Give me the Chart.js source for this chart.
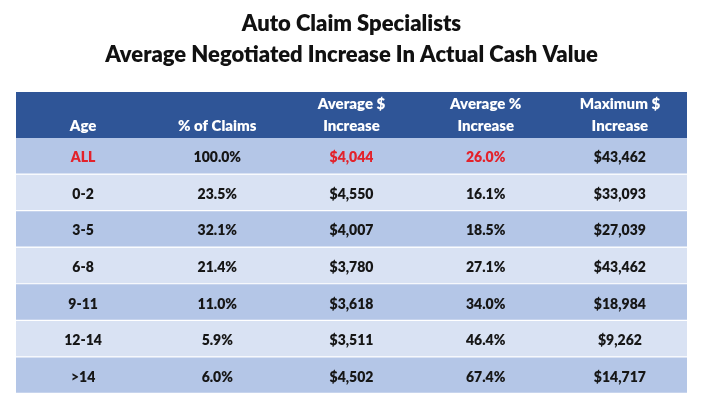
<!DOCTYPE html>
<html>
<head>
<meta charset="utf-8">
<script src="https://cdn.jsdelivr.net/npm/chart.js@4"></script>
<style>
  html, body { margin: 0; padding: 0; background: #fff; }
  #wrap { width: 710px; height: 417px; position: relative; }
</style>
</head>
<body>
<div id="wrap"><canvas id="c"></canvas></div>
<script>
// ---- data ----
const titleLines = ['Auto Claim Specialists', 'Average Negotiated Increase In Actual Cash Value'];
const columnHeaders = [['Age'], ['% of Claims'], ['Average $', 'Increase'], ['Average %', 'Increase'], ['Maximum $', 'Increase']];
const ages = ['ALL', '0-2', '3-5', '6-8', '9-11', '12-14', '>14'];
const pctOfClaims = [100.0, 23.5, 32.1, 21.4, 11.0, 5.9, 6.0];
const avgDollarIncrease = [4044, 4550, 4007, 3780, 3618, 3511, 4502];
const avgPctIncrease = [26.0, 16.1, 18.5, 27.1, 34.0, 46.4, 67.4];
const maxDollarIncrease = [43462, 33093, 27039, 43462, 18984, 9262, 14717];

// ---- style ----
const FONT = 'Lato, "Open Sans", "DejaVu Sans", sans-serif';
const HEADER_BG = '#2F5597';
const ROW_DARK = '#B4C6E7';
const ROW_LIGHT = '#D9E2F3';
const RED = '#E3222B';
const TEXT = '#161616';
const HEADER_UNITS = 1.26; // header row height relative to a data row

const fmtPct = v => v.toFixed(1) + '%';
const fmtUsd = v => '$' + v.toLocaleString('en-US');

const rowsText = ages.map((a, i) => [
  a,
  fmtPct(pctOfClaims[i]),
  fmtUsd(avgDollarIncrease[i]),
  fmtPct(avgPctIncrease[i]),
  fmtUsd(maxDollarIncrease[i])
]);
const redCols = [0, 2, 3]; // highlighted cells in the "ALL" row

// fit title size to reference width
const mc = document.createElement('canvas').getContext('2d');
mc.font = '800 21px ' + FONT;
const w21 = mc.measureText(titleLines[1]).width;
const titleSize = Math.max(16, Math.min(24, 21 * 493 / w21));

const tablePlugin = {
  id: 'tablePlugin',
  beforeDatasetsDraw(chart) {
    const { ctx, scales: { x, y } } = chart;
    const top = y.getPixelForValue(-HEADER_UNITS);
    const bot = y.getPixelForValue(0);
    ctx.save();
    ctx.fillStyle = HEADER_BG;
    ctx.fillRect(x.getPixelForValue(0), top, x.getPixelForValue(5) - x.getPixelForValue(0), bot - top);
    ctx.restore();
  },
  afterDatasetsDraw(chart) {
    const { ctx, scales: { x, y } } = chart;
    ctx.save();
    ctx.textAlign = 'center';
    ctx.textBaseline = 'middle';
    // header
    const hBot = y.getPixelForValue(0);
    ctx.fillStyle = '#ffffff';
    ctx.font = '800 15px ' + FONT;
    columnHeaders.forEach((lines, c) => {
      const cx = x.getPixelForValue(c + 0.5);
      const n = lines.length;
      lines.forEach((t, k) => {
        ctx.fillText(t, cx, hBot - 11.5 - (n - 1 - k) * 22);
      });
    });
    // body
    ctx.font = '800 14px ' + FONT;
    rowsText.forEach((row, r) => {
      const cy = y.getPixelForValue(r + 0.5) + 1.5;
      row.forEach((t, c) => {
        ctx.fillStyle = (r === 0 && redCols.includes(c)) ? RED : TEXT;
        ctx.fillText(t, x.getPixelForValue(c + 0.5), cy);
      });
    });
    ctx.restore();
  }
};

new Chart(document.getElementById('c'), {
  type: 'bar',
  data: {
    datasets: [{
      data: ages.map((a, i) => ({ y: i + 0.5, x: [0, 5] })),
      backgroundColor: ages.map((a, i) => i % 2 === 0 ? ROW_DARK : ROW_LIGHT),
      borderColor: '#ffffff',
      borderWidth: { top: 0, left: 0, right: 0, bottom: 1.5 },
      borderSkipped: false,
      barPercentage: 1,
      categoryPercentage: 1
    }]
  },
  options: {
    indexAxis: 'y',
    responsive: true,
    maintainAspectRatio: false,
    animation: false,
    events: [],
    layout: { padding: { left: 16, right: 23, top: 0, bottom: 23 } },
    scales: {
      x: { type: 'linear', min: 0, max: 5, display: false, afterBuildTicks: s => { s.ticks = []; } },
      y: { type: 'linear', min: -HEADER_UNITS, max: 7, reverse: true, display: false, afterBuildTicks: s => { s.ticks = []; } }
    },
    plugins: {
      legend: { display: false },
      tooltip: { enabled: false },
      title: {
        display: true,
        text: titleLines,
        color: '#111111',
        font: { family: FONT, weight: '800', size: titleSize, lineHeight: 31 / titleSize },
        padding: { top: 8, bottom: 22 }
      }
    }
  },
  plugins: [tablePlugin]
});
</script>
</body>
</html>
